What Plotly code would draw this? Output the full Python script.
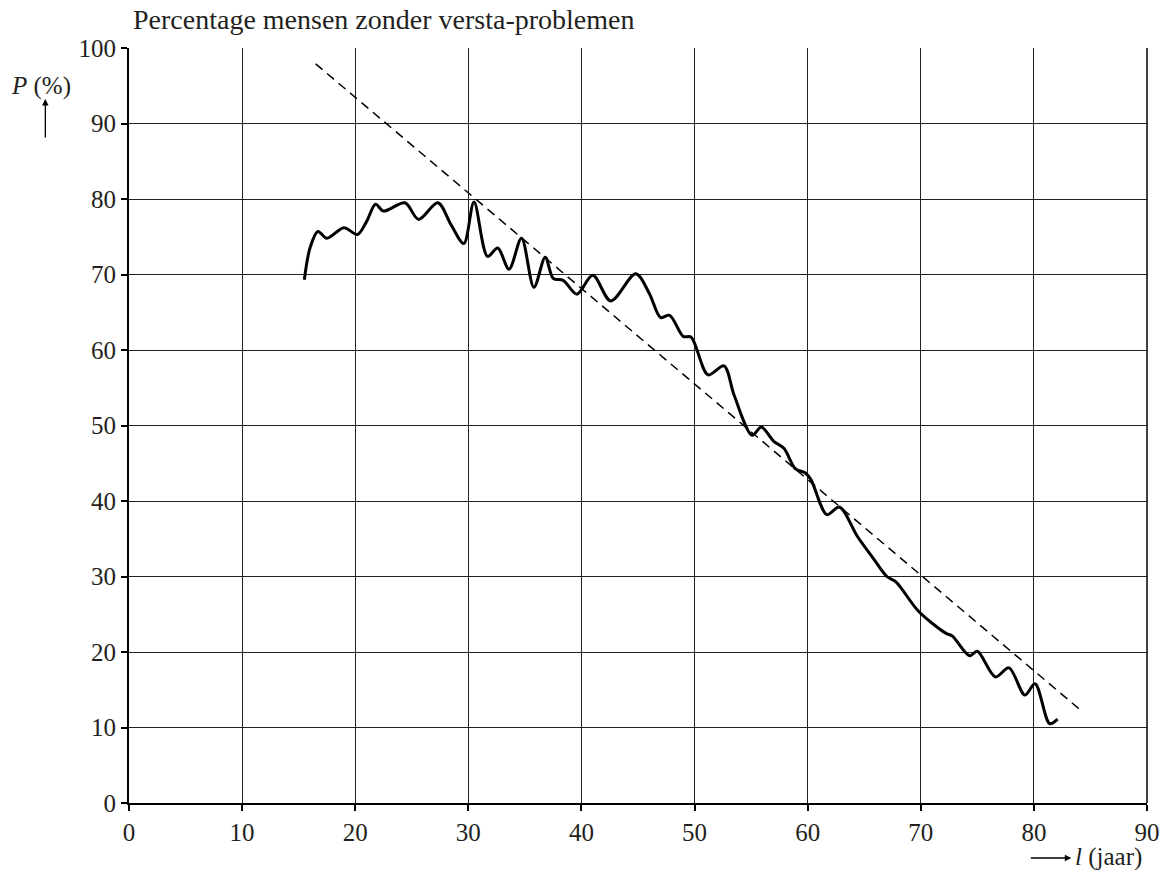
import plotly.graph_objects as go

# Data
age = [15.5, 16.0, 16.7, 17.5, 19.0, 20.2, 21.0, 21.8, 22.5, 24.4, 25.6, 27.3, 28.5, 29.6,
       30.5, 31.7, 32.6, 33.6, 34.7, 35.8, 36.8, 37.5, 38.4, 39.6, 41.0, 42.6, 44.8, 46.0,
       47.0, 47.8, 49.0, 49.7, 51.2, 52.6, 53.5, 55.1, 55.9, 57.0, 57.9, 58.9, 59.8, 60.3,
       61.7, 62.8, 64.4, 65.8, 67.0, 67.8, 69.8, 72.2, 72.8, 74.3, 75.0, 76.6, 77.8, 79.2,
       80.1, 81.4, 82.1]
percentage = [69.3, 73.5, 75.7, 74.8, 76.2, 75.3, 77.0, 79.3, 78.4, 79.5, 77.3, 79.5, 76.5, 74.1,
              79.6, 72.4, 73.5, 70.7, 74.8, 68.3, 72.3, 69.5, 69.2, 67.4, 69.9, 66.5, 70.1, 67.5,
              64.3, 64.6, 61.8, 61.7, 56.7, 57.9, 54.0, 48.7, 49.8, 47.9, 47.0, 44.3, 43.7, 42.8,
              38.2, 39.2, 35.3, 32.4, 30.0, 29.3, 25.4, 22.5, 22.1, 19.5, 20.1, 16.7, 17.9, 14.3,
              15.8, 10.5, 11.1]

trend_age = [16.5, 84.05]
trend_pct = [97.9, 12.4]

x_ticks = [0, 10, 20, 30, 40, 50, 60, 70, 80, 90]
y_ticks = [0, 10, 20, 30, 40, 50, 60, 70, 80, 90, 100]

title_text = "Percentage mensen zonder versta-problemen"
y_label = "<i>P</i> (%)"
x_label = "<i>l</i> (jaar)"

FONT = "Liberation Serif, Times New Roman, serif"
INK = "#231f20"

fig = go.Figure()
fig.add_trace(go.Scatter(x=trend_age, y=trend_pct, mode="lines",
                         line=dict(color="black", width=1.5, dash="9px,6px"),
                         hoverinfo="skip", showlegend=False))
fig.add_trace(go.Scatter(x=age, y=percentage, mode="lines",
                         line=dict(color="black", width=3, shape="spline", smoothing=0.9),
                         showlegend=False))

W, H = 1172, 870
L, R, T, B = 129, 21, 48, 67
pw, ph = W - L - R, H - T - B

def px(x):
    return (x - L) / pw

def py(y):
    return (H - B - y) / ph

axis_common = dict(showgrid=True, gridcolor="#222222", gridwidth=1,
                   showline=True, linecolor="black", linewidth=2,
                   ticks="outside", ticklen=6, tickwidth=2, tickcolor="black",
                   zeroline=False, mirror=False,
                   tickfont=dict(family=FONT, size=25, color=INK))

fig.update_layout(
    width=W, height=H,
    margin=dict(l=L, r=R, t=T, b=B, pad=0),
    plot_bgcolor="white", paper_bgcolor="white",
    font=dict(family=FONT, color=INK),
    xaxis=dict(range=[0, 90], tickvals=x_ticks, ticktext=[str(v) for v in x_ticks], **axis_common),
    yaxis=dict(range=[0, 100], tickvals=y_ticks, ticktext=[str(v) for v in y_ticks], **axis_common),
    annotations=[
        dict(text=title_text, xref="paper", yref="paper", x=px(131), y=py(20),
             xanchor="left", yanchor="middle", showarrow=False,
             font=dict(family=FONT, size=28, color=INK)),
        dict(text=y_label, xref="paper", yref="paper", x=px(9), y=py(86),
             xanchor="left", yanchor="middle", showarrow=False,
             font=dict(family=FONT, size=25, color=INK)),
        dict(text="", xref="paper", yref="paper", x=px(45), y=py(99),
             ax=0, ay=40, showarrow=True, arrowhead=2, arrowsize=1, arrowwidth=1.3,
             arrowcolor="black"),
        dict(text="", xref="paper", yref="paper", x=px(1075), y=py(858),
             ax=-42, ay=0, showarrow=True, arrowhead=2, arrowsize=1, arrowwidth=1.3,
             arrowcolor="black"),
        dict(text=x_label, xref="paper", yref="paper", x=px(1077), y=py(857),
             xanchor="left", yanchor="middle", showarrow=False,
             font=dict(family=FONT, size=25, color=INK)),
    ],
)

# right border line
fig.add_shape(type="line", xref="paper", yref="paper", x0=1, x1=1, y0=0, y1=1,
              line=dict(color="black", width=1.5))

fig.write_html("out.html", config={"displayModeBar": False},
               post_script="document.body.style.margin='0';document.body.style.overflow='hidden';")
